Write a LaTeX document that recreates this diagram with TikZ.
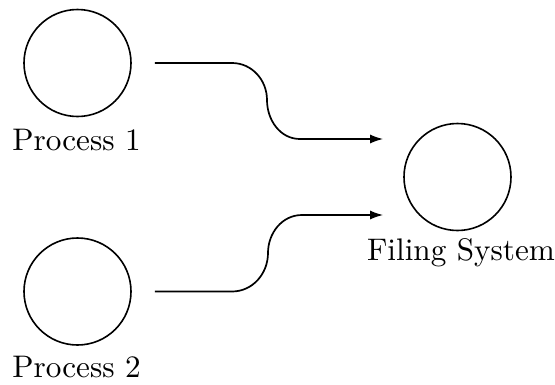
\documentclass[tikz,border=0pt]{standalone}
\usetikzlibrary{arrows.meta,calc}
\newcommand{\captxt}[1]{\scalebox{3.12}{\normalsize #1}}
\begin{document}
\begin{tikzpicture}[x=1pt,y=-1pt,
  proc/.style={circle,draw,line width=1.6pt,minimum size=107pt,inner sep=0pt},
  lbl/.style={anchor=base,inner sep=0pt},
  flow/.style={line width=1.7pt,-{Latex[length=13pt,width=9pt]},shorten <=23pt,shorten >=20pt}]
\useasboundingbox (0,0) rectangle (555,384);
% the three bubbles
\node[proc] (p1) at (77.5,63) {};
\node[proc] (p2) at (77.5,291.5) {};
\node[proc] (fs) at (457.5,177) {};
% their captions
\node[lbl] (l1) at (76.5,150) {\captxt{Process 1}};
\node[lbl] (l2) at (76.5,377) {\captxt{Process 2}};
\node[lbl] (l3) at (461,260) {\captxt{Filing System}};
% entry points on the filing system side
\coordinate (in1) at ($(fs.west)+(0,-38)$);
\coordinate (in2) at ($(fs.west)+(0,38)$);
% S-shaped data flows
\draw[flow] (p1.east) -- (232,63) to[out=0,in=90] (267,100)
  to[out=-90,in=180] (300,139) -- (in1);
\draw[flow] (p2.east) -- (232,291.5) to[out=0,in=-90] (268,253)
  to[out=90,in=180] (302,215) -- (in2);
\end{tikzpicture}
\end{document}
